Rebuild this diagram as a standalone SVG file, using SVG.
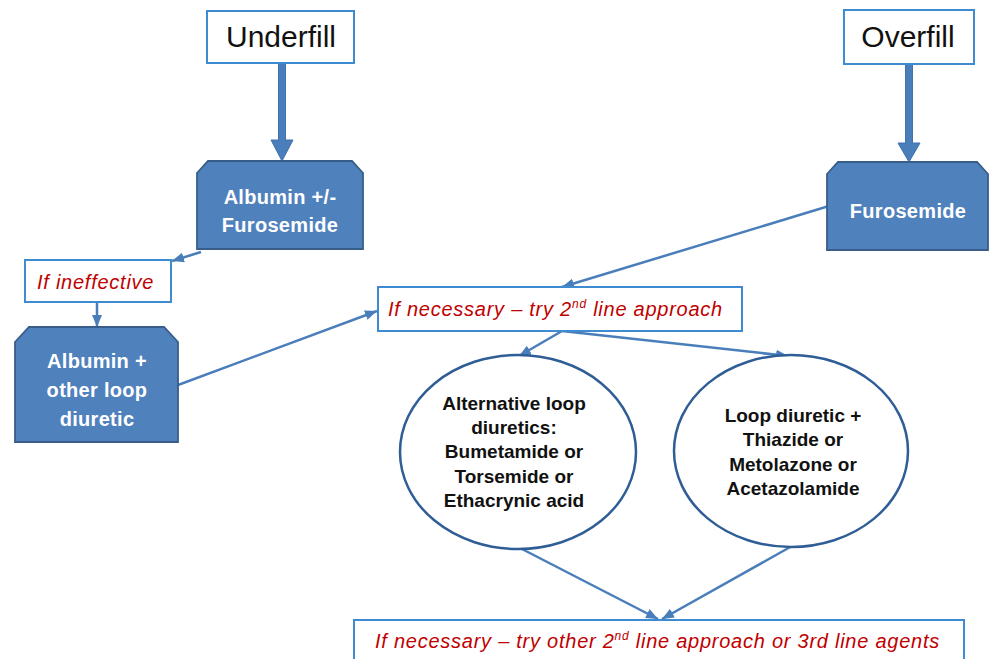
<svg xmlns="http://www.w3.org/2000/svg" width="990" height="659" viewBox="0 0 990 659">
<defs>
<style>
.box{fill:#ffffff;stroke:#3F8BD1;stroke-width:2}
.blk{fill:#4F81BD;stroke:#385D8A;stroke-width:1.8}
.ell{fill:#ffffff;stroke:#2F5D95;stroke-width:2.5}
.big{font-family:"Liberation Sans",Arial,sans-serif;font-size:30px;fill:#111;text-anchor:middle}
.red{font-family:"Liberation Sans",Arial,sans-serif;font-style:italic;font-size:20px;fill:#C00000;letter-spacing:0.75px}
.wht{font-family:"Liberation Sans",Arial,sans-serif;font-weight:bold;font-size:20px;fill:#ffffff;text-anchor:middle;letter-spacing:0.3px}
.blt{font-family:"Liberation Sans",Arial,sans-serif;font-weight:bold;font-size:19px;fill:#111;text-anchor:middle}
.con{stroke:#4A7EBB;stroke-width:2.5;fill:none;marker-end:url(#ah)}
.thick{fill:#4A7EBB;stroke:#3F72AE;stroke-width:1}
</style>
<marker id="ah" markerUnits="userSpaceOnUse" markerWidth="14" markerHeight="12" refX="12" refY="5" orient="auto">
<path d="M0,0 L12,5 L0,10 Z" fill="#4A7EBB"/>
</marker>
</defs>

<g id="connectors">
<polygon class="thick" points="278.5,63 285.5,63 285.5,140 293,140 282,161 271,140 278.5,140"/>
<polygon class="thick" points="905.5,64 912.5,64 912.5,143 920,143 909,162 898,143 905.5,143"/>
<line class="con" x1="201" y1="252" x2="172" y2="261"/>
<line class="con" x1="97" y1="302" x2="97" y2="327"/>
<line class="con" x1="178" y1="385" x2="377" y2="311"/>
<line class="con" x1="829" y1="206" x2="562" y2="287"/>
<line class="con" x1="562" y1="331" x2="519" y2="356"/>
<line class="con" x1="562" y1="331" x2="788" y2="356"/>
<line class="con" x1="520" y1="548" x2="658" y2="619"/>
<line class="con" x1="792" y1="546" x2="662" y2="619"/>
</g>

<g id="underfill">
<rect class="box" x="207" y="11" width="147" height="52"/>
<text class="big" x="281" y="47">Underfill</text>
</g>

<g id="overfill">
<rect class="box" x="844" y="10" width="130" height="54"/>
<text class="big" x="908" y="47">Overfill</text>
</g>

<g id="albumin-furosemide">
<polygon class="blk" points="208,161 352,161 363,173 363,249 197,249 197,173"/>
<text class="wht" x="280" y="204">Albumin +/-</text>
<text class="wht" x="280" y="232">Furosemide</text>
</g>

<g id="furosemide">
<polygon class="blk" points="838,162 977,162 988,174 988,250 827,250 827,174"/>
<text class="wht" x="908" y="218">Furosemide</text>
</g>

<g id="if-ineffective">
<rect class="box" x="25" y="260" width="146" height="42"/>
<text class="red" x="37" y="289">If ineffective</text>
</g>

<g id="albumin-other-loop">
<polygon class="blk" points="29,327 164,327 178,342 178,442 15,442 15,342"/>
<text class="wht" x="97" y="368">Albumin +</text>
<text class="wht" x="97" y="397">other loop</text>
<text class="wht" x="97" y="426">diuretic</text>
</g>

<g id="second-line">
<rect class="box" x="378" y="287" width="364" height="44"/>
<text class="red" x="388" y="316">If necessary – try 2<tspan font-size="12" dy="-8">nd</tspan><tspan dy="8"> line approach</tspan></text>
</g>

<g id="alt-loop">
<ellipse class="ell" cx="518" cy="452" rx="118" ry="97"/>
<text class="blt" x="514" y="410">Alternative loop</text>
<text class="blt" x="514" y="434">diuretics:</text>
<text class="blt" x="514" y="458">Bumetamide or</text>
<text class="blt" x="514" y="483">Torsemide or</text>
<text class="blt" x="514" y="507">Ethacrynic acid</text>
</g>

<g id="loop-thiazide">
<ellipse class="ell" cx="791" cy="451" rx="117" ry="96"/>
<text class="blt" x="793" y="422">Loop diuretic +</text>
<text class="blt" x="793" y="446">Thiazide or</text>
<text class="blt" x="793" y="471">Metolazone or</text>
<text class="blt" x="793" y="495">Acetazolamide</text>
</g>

<g id="third-line">
<rect class="box" x="354" y="620" width="610" height="44"/>
<text class="red" x="375" y="648">If necessary – try other 2<tspan font-size="12" dy="-8">nd</tspan><tspan dy="8"> line approach or 3rd line agents</tspan></text>
</g>
</svg>
